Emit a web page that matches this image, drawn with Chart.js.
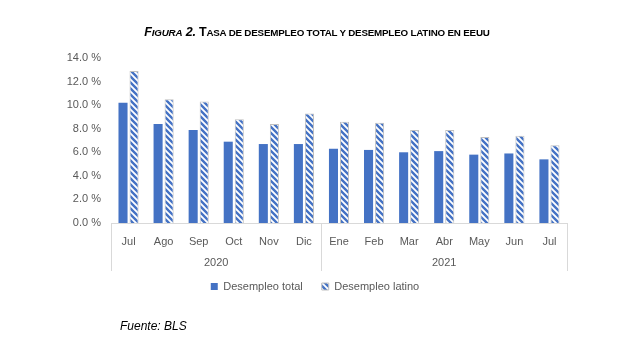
<!DOCTYPE html>
<html>
<head>
<meta charset="utf-8">
<script src="https://cdn.jsdelivr.net/npm/chart.js@4"></script>
<style>
  body { margin: 0; background: #fff; }
  #wrap { position: relative; width: 630px; height: 342px; }
  #chart { position: absolute; left: 0; top: 0; }
  #title {
    position: absolute; left: 0; top: 25px; width: 634px; text-align: center;
    font-family: "Liberation Sans", Arial, sans-serif; font-weight: bold;
    font-size: 12.5px; color: #000; letter-spacing: -0.2px;
  }
  #title .sc { font-size: 9.8px; }
  #source {
    position: absolute; left: 120px; top: 319px;
    font-family: "Liberation Sans", Arial, sans-serif; font-style: italic;
    font-size: 12px; color: #000;
  }
</style>
</head>
<body>
<div id="wrap">
  <canvas id="chart" width="630" height="342"></canvas>
  <div id="title"><i>F<span class="sc">IGURA</span> 2.</i> T<span class="sc">ASA DE DESEMPLEO TOTAL Y DESEMPLEO LATINO EN EEUU</span></div>
  <div id="source">Fuente: BLS</div>
</div>
<script>
const months = ['Jul', 'Ago', 'Sep', 'Oct', 'Nov', 'Dic', 'Ene', 'Feb', 'Mar', 'Abr', 'May', 'Jun', 'Jul'];
const years = ['2020', '2021'];
const yearSpans = [6, 7];
const totalRate = [10.2, 8.4, 7.9, 6.9, 6.7, 6.7, 6.3, 6.2, 6.0, 6.1, 5.8, 5.9, 5.4];
const latinoRate = [12.9, 10.5, 10.3, 8.8, 8.4, 9.3, 8.6, 8.5, 7.9, 7.9, 7.3, 7.4, 6.6];

const blue = '#4472C4';
const axisGray = '#D9D9D9';
const textGray = '#595959';
const font = '"Liberation Sans", Arial, sans-serif';

function makeHatch() {
  const c = document.createElement('canvas');
  c.width = 6; c.height = 6;
  const g = c.getContext('2d');
  g.fillStyle = '#fff';
  g.fillRect(0, 0, 6, 6);
  g.strokeStyle = blue;
  g.lineWidth = 2.4;
  g.beginPath();
  g.moveTo(-3, -3); g.lineTo(9, 9);
  g.moveTo(-3, 3); g.lineTo(3, 9);
  g.moveTo(3, -3); g.lineTo(9, 3);
  g.stroke();
  return g.createPattern(c, 'repeat');
}
const hatch = makeHatch();

// lines between category groups and the year labels under the months
const yearAxis = {
  id: 'yearAxis',
  afterDraw(chart) {
    const ctx = chart.ctx;
    const x = chart.scales.x;
    const top = chart.chartArea.bottom;
    const half = (x.getPixelForValue(1) - x.getPixelForValue(0)) / 2;
    ctx.save();
    ctx.strokeStyle = axisGray;
    ctx.lineWidth = 1;
    ctx.fillStyle = textGray;
    ctx.font = '11px ' + font;
    ctx.textAlign = 'center';
    ctx.textBaseline = 'middle';
    let start = 0;
    const edges = [x.getPixelForValue(0) - half];
    years.forEach((yr, i) => {
      const end = start + yearSpans[i] - 1;
      const left = x.getPixelForValue(start) - half;
      const right = x.getPixelForValue(end) + half;
      edges.push(right);
      ctx.fillText(yr, (left + right) / 2, top + 40);
      start = end + 1;
    });
    edges.forEach(px => {
      const p = Math.round(px) + 0.5;
      ctx.beginPath();
      ctx.moveTo(p, top);
      ctx.lineTo(p, top + 48);
      ctx.stroke();
    });
    ctx.restore();
  }
};

new Chart(document.getElementById('chart'), {
  type: 'bar',
  data: {
    labels: months,
    datasets: [
      {
        label: 'Desempleo total',
        data: totalRate,
        backgroundColor: blue,
        borderWidth: 0
      },
      {
        label: 'Desempleo latino',
        data: latinoRate,
        backgroundColor: hatch,
        borderColor: '#BFBFBF',
        borderWidth: 1
      }
    ]
  },
  options: {
    responsive: false,
    animation: false,
    datasets: {
      bar: { categoryPercentage: 0.63, barPercentage: 0.82 }
    },
    layout: { padding: { left: 0, right: 0, top: 58, bottom: 40 } },
    plugins: {
      legend: {
        position: 'bottom',
        labels: {
          boxWidth: 7,
          boxHeight: 7,
          padding: 19,
          color: textGray,
          font: { family: font, size: 11 }
        }
      },
      tooltip: { enabled: false }
    },
    scales: {
      x: {
        grid: { display: false },
        border: { color: axisGray },
        ticks: {
          color: textGray,
          padding: 4,
          font: { family: font, size: 11 }
        },
        afterFit(scale) { scale.height = 39; }
      },
      y: {
        min: 0,
        max: 14,
        grid: { display: false },
        border: { display: false },
        ticks: {
          stepSize: 2,
          color: textGray,
          padding: 2,
          font: { family: font, size: 11 },
          callback: v => v.toFixed(1) + ' %'
        },
        afterFit(scale) { scale.width = 111; }
      },
      // empty right-hand strip so the legend stays centred on the page
      spacer: {
        type: 'linear',
        position: 'right',
        display: true,
        grid: { display: false },
        border: { display: false },
        ticks: { display: false },
        afterFit(scale) { scale.width = 63; }
      }
    }
  },
  plugins: [yearAxis]
});
</script>
</body>
</html>
